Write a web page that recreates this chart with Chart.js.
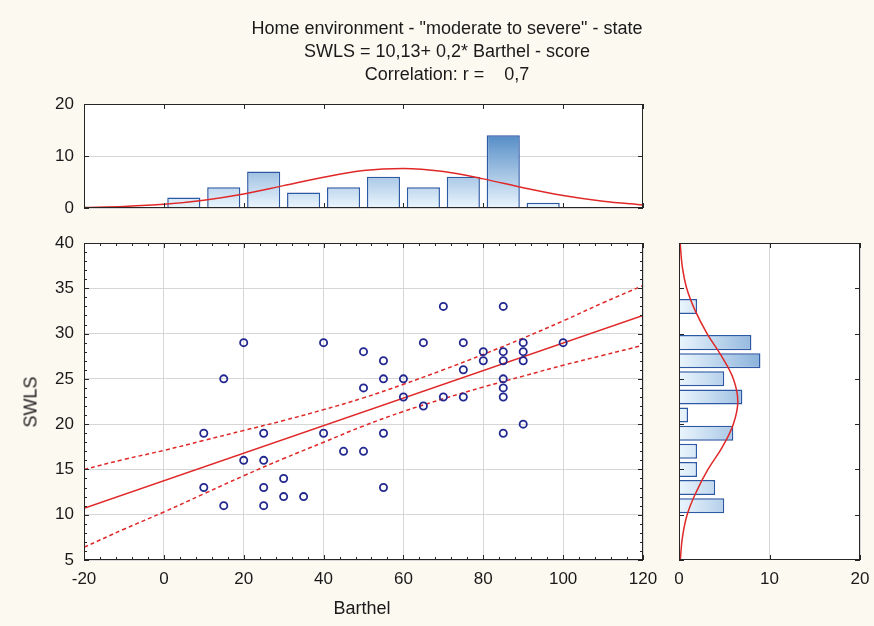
<!DOCTYPE html>
<html>
<head>
<meta charset="utf-8">
<script src="https://cdn.jsdelivr.net/npm/chart.js"></script>
<style>
  body { margin: 0; }
  #wrap { position: relative; width: 874px; height: 626px; background: #fcf9f1; overflow: hidden;
          font-family: "Liberation Sans", Arial, sans-serif; color: #1a1a1a; }
  canvas { position: absolute; left: 0; top: 0; }
  .title { position: absolute; left: 0; width: 894px; text-align: center; font-size: 18px; line-height: 23px; white-space: pre; }
  .axt { position: absolute; font-size: 18px; white-space: pre; }
</style>
</head>
<body>
<div id="wrap">
  <canvas id="topHist" width="874" height="626"></canvas>
  <canvas id="mainChart" width="874" height="626"></canvas>
  <canvas id="rightHist" width="900" height="626"></canvas>
  <div class="title" style="top:17px">Home environment - "moderate to severe" - state
SWLS = 10,13+ 0,2* Barthel - score
Correlation: r =    0,7</div>
  <div class="axt" style="left:362px;top:608px;transform:translate(-50%,-50%)">Barthel</div>
  <div class="axt" style="left:31px;top:402px;transform:translate(-50%,-50%) rotate(-90deg)">SWLS</div>
</div>
<script>
// scatter data
const barthel = [10,10,15,15,20,20,25,25,25,25,30,30,35,40,40,45,50,50,50,55,55,55,55,60,60,65,65,70,70,75,75,75,80,80,85,85,85,85,85,85,85,90,90,90,90,100];
const swls    = [19,13,25,11,29,16,19,16,13,11,14,12,12,29,19,17,28,24,17,27,25,19,13,25,23,22,29,33,23,29,26,23,28,27,33,28,27,25,24,23,19,29,28,27,20,29];

// regression line and confidence band
const fitX = [-20, 120];
const fitY = [10.7, 32.0];
const bandX = [-20, -10, 0, 10, 20, 30, 40, 50, 60, 70, 80, 90, 100, 110, 120];
const bandUpper = [15.0, 16.1, 17.1, 18.2, 19.3, 20.4, 21.6, 22.9, 24.4, 26.0, 27.7, 29.5, 31.4, 33.4, 35.3];
const bandLower = [6.4, 8.4, 10.3, 12.3, 14.3, 16.2, 18.0, 19.8, 21.4, 22.8, 24.1, 25.3, 26.5, 27.6, 28.7];

// histogram of Barthel (top)
const topBins = [5, 15, 25, 35, 45, 55, 65, 75, 85, 95];
const topCounts = [2, 4, 7, 3, 4, 6, 4, 6, 14, 1];
const topCurveX = [-20, -10, 0, 10, 20, 30, 40, 50, 60, 70, 80, 90, 100, 110, 120];
const topCurveY = [0.1, 0.3, 0.7, 1.5, 2.7, 4.3, 5.9, 7.2, 7.6, 7.0, 5.6, 3.9, 2.4, 1.3, 0.6];

// histogram of SWLS (right)
const rightBins = [11, 13, 15, 17, 19, 21, 23, 25, 27, 29, 33];
const rightCounts = [5, 4, 2, 2, 6, 1, 7, 5, 9, 8, 2];
const rightCurveY = [5, 7.5, 10, 12.5, 15, 17.5, 20, 22.5, 25, 27.5, 30, 32.5, 35, 37.5, 40];
const rightCurveX = [0.14, 0.38, 0.9, 1.9, 3.2, 4.8, 6.0, 6.5, 6.0, 4.7, 3.1, 1.8, 0.85, 0.35, 0.13];

const font = { family: '"Liberation Sans", Arial, sans-serif', size: 17 };
const tickColor = '#1a1a1a';
const gridColor = '#d6d6d6';
const red = '#e02828';
const barBorder = '#2c58a4';

function pairs(xs, ys) {
  return xs.map((x, i) => ({ x: x, y: ys[i] }));
}

// white plot area, black frame and small inner tick marks
const framePlugin = {
  id: 'frame',
  beforeDraw(chart) {
    const a = chart.chartArea;
    chart.ctx.save();
    chart.ctx.fillStyle = '#ffffff';
    chart.ctx.fillRect(a.left, a.top, a.width, a.height);
    chart.ctx.restore();
  },
  afterDatasetsDraw(chart, args, opts) {
    const { ctx, chartArea: a, scales } = chart;
    ctx.save();
    ctx.strokeStyle = '#262626';
    ctx.lineWidth = 1;
    ctx.beginPath();
    const marks = (scale, step, len, sides) => {
      if (!step) return;
      for (let v = scale.min; v <= scale.max + 1e-6; v += step) {
        const p = Math.round(scale.getPixelForValue(v)) + 0.5;
        sides.forEach(s => {
          if (s === 'top') { ctx.moveTo(p, a.top); ctx.lineTo(p, a.top + len); }
          if (s === 'bottom') { ctx.moveTo(p, a.bottom); ctx.lineTo(p, a.bottom - len); }
          if (s === 'left') { ctx.moveTo(a.left, p); ctx.lineTo(a.left + len, p); }
          if (s === 'right') { ctx.moveTo(a.right, p); ctx.lineTo(a.right - len, p); }
        });
      }
    };
    marks(scales.x, opts.xMajor, 5, opts.xSides || []);
    marks(scales.x, opts.xMinor, 3, opts.xSides || []);
    marks(scales.y, opts.yMajor, 5, opts.ySides || []);
    marks(scales.y, opts.yMinor, 3, opts.ySides || []);
    ctx.stroke();
    ctx.strokeRect(a.left + 0.5, a.top + 0.5, a.width - 1, a.height - 1);
    ctx.restore();
  }
};

function fixWidth(w) { return scale => { scale.width = w; }; }
function fixHeight(h) { return scale => { scale.height = h; }; }

function vGradient(ctx) {
  const a = ctx.chart.chartArea;
  if (!a) return '#bcd9f2';
  const g = ctx.chart.ctx.createLinearGradient(0, a.bottom, 0, a.top);
  g.addColorStop(0, '#eaf5fd');
  g.addColorStop(1, '#1560b0');
  return g;
}

function hGradient(ctx) {
  const a = ctx.chart.chartArea;
  if (!a) return '#bcd9f2';
  const g = ctx.chart.ctx.createLinearGradient(a.left, 0, a.right, 0);
  g.addColorStop(0, '#eaf5fd');
  g.addColorStop(1, '#1560b0');
  return g;
}

// top histogram: plot area 84..643 x 104..208
new Chart(document.getElementById('topHist'), {
  type: 'bar',
  data: {
    datasets: [
      {
        type: 'line',
        data: pairs(topCurveX, topCurveY),
        borderColor: red,
        borderWidth: 1.5,
        pointRadius: 0,
        cubicInterpolationMode: 'monotone'
      },
      {
        data: pairs(topBins, topCounts),
        backgroundColor: vGradient,
        borderColor: barBorder,
        borderWidth: 1.5,
        barPercentage: 0.83,
        categoryPercentage: 1
      }
    ]
  },
  options: {
    responsive: false,
    animation: false,
    layout: { padding: { top: 104, right: 231, left: 0, bottom: 406 } },
    plugins: {
      legend: { display: false },
      tooltip: { enabled: false },
      frame: { xMajor: 20, xSides: ['top', 'bottom'], yMajor: 10, ySides: ['left', 'right'] }
    },
    scales: {
      x: {
        type: 'linear', min: -20, max: 120, offset: false,
        ticks: { display: false, stepSize: 20 },
        grid: { display: false, offset: false },
        border: { display: false },
        afterFit: fixHeight(12)
      },
      y: {
        min: 0, max: 20,
        ticks: { stepSize: 10, font: font, color: tickColor, padding: 10 },
        grid: { color: gridColor, drawTicks: false },
        border: { display: false },
        afterFit: fixWidth(84)
      }
    }
  },
  plugins: [framePlugin]
});

// main scatter plot: plot area 84..643 x 243..560
new Chart(document.getElementById('mainChart'), {
  type: 'scatter',
  data: {
    datasets: [
      {
        data: pairs(barthel, swls),
        pointStyle: 'circle',
        pointRadius: 3.6,
        pointBorderWidth: 1.8,
        borderColor: '#22288f',
        backgroundColor: 'rgba(255,255,255,0)'
      },
      {
        data: pairs(fitX, fitY),
        showLine: true,
        borderColor: red,
        borderWidth: 1.5,
        pointRadius: 0
      },
      {
        data: pairs(bandX, bandUpper),
        showLine: true,
        borderColor: red,
        borderWidth: 1.5,
        borderDash: [4, 3],
        pointRadius: 0,
        tension: 0.4
      },
      {
        data: pairs(bandX, bandLower),
        showLine: true,
        borderColor: red,
        borderWidth: 1.5,
        borderDash: [4, 3],
        pointRadius: 0,
        tension: 0.4
      }
    ]
  },
  options: {
    responsive: false,
    animation: false,
    layout: { padding: { top: 243, right: 231, left: 0, bottom: 0 } },
    plugins: {
      legend: { display: false },
      tooltip: { enabled: false },
      frame: { xMajor: 20, xMinor: 4, xSides: ['top', 'bottom'], yMajor: 5, yMinor: 1, ySides: ['left', 'right'] }
    },
    scales: {
      x: {
        min: -20, max: 120,
        ticks: { stepSize: 20, font: font, color: tickColor, padding: 9, maxRotation: 0 },
        grid: { color: gridColor, drawTicks: false },
        border: { display: false },
        afterFit: fixHeight(66)
      },
      y: {
        min: 5, max: 40,
        ticks: { stepSize: 5, font: font, color: tickColor, padding: 10 },
        grid: { color: gridColor, drawTicks: false },
        border: { display: false },
        afterFit: fixWidth(84)
      }
    }
  },
  plugins: [framePlugin]
});

// right histogram: plot area 679..860 x 243..560 (canvas is wider than the page so the "20" label fits)
new Chart(document.getElementById('rightHist'), {
  type: 'bar',
  data: {
    datasets: [
      {
        type: 'scatter',
        data: pairs(rightCurveX, rightCurveY),
        showLine: true,
        borderColor: red,
        borderWidth: 1.5,
        pointRadius: 0,
        tension: 0.4
      },
      {
        indexAxis: 'y',
        data: pairs(rightCounts, rightBins),
        backgroundColor: hGradient,
        borderColor: barBorder,
        borderWidth: 1.5,
        barPercentage: 0.83,
        categoryPercentage: 1
      }
    ]
  },
  options: {
    responsive: false,
    animation: false,
    layout: { padding: { top: 243, right: 40, left: 660, bottom: 0 } },
    plugins: {
      legend: { display: false },
      tooltip: { enabled: false },
      frame: { xMajor: 10, xSides: ['top', 'bottom'], yMajor: 5, ySides: ['left', 'right'] }
    },
    scales: {
      x: {
        type: 'linear', min: 0, max: 20, offset: false,
        ticks: { stepSize: 10, font: font, color: tickColor, padding: 9, maxRotation: 0 },
        grid: { color: gridColor, drawTicks: false, offset: false },
        border: { display: false },
        afterFit: fixHeight(66)
      },
      y: {
        type: 'linear', min: 5, max: 40, offset: false,
        ticks: { display: false, stepSize: 5 },
        grid: { display: false, offset: false },
        border: { display: false },
        afterFit: fixWidth(19)
      }
    }
  },
  plugins: [framePlugin]
});
</script>
</body>
</html>
